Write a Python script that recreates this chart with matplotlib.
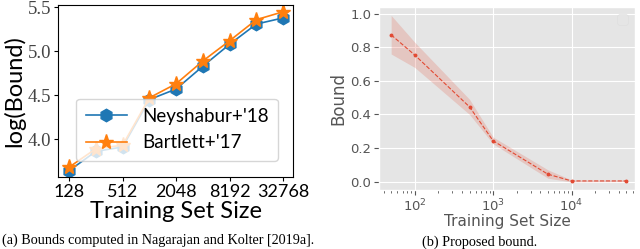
import numpy as np
import matplotlib.pyplot as plt
from matplotlib.ticker import FixedLocator, NullLocator

# panel (a)
sizes_a = [128, 256, 512, 1024, 2048, 4096, 8192, 16384, 32768]
neyshabur = [3.64, 3.86, 3.91, 4.45, 4.57, 4.83, 5.08, 5.31, 5.38]
bartlett = [3.68, 3.89, 3.93, 4.47, 4.63, 4.89, 5.12, 5.36, 5.45]
xticks_a = [128, 512, 2048, 8192, 32768]
yticks_a = [4.0, 4.5, 5.0, 5.5]

# panel (b)
sizes_b = [50, 100, 500, 1000, 5000, 10000, 50000]
bound = [0.874, 0.754, 0.445, 0.243, 0.044, 0.004, 0.004]
bound_lo = [0.76, 0.68, 0.40, 0.225, 0.02, -0.002, 0.0]
bound_hi = [0.99, 0.83, 0.49, 0.265, 0.07, 0.01, 0.01]
yticks_b = [0.0, 0.2, 0.4, 0.6, 0.8, 1.0]

fig = plt.figure(figsize=(6.4, 2.49), dpi=100)
sans = 'Lato'

# ---- kiri ----
ax1 = fig.add_axes([58/640, 1-177/249, 235/640, 172/249])
ax1.plot(sizes_a, neyshabur, color='#1f77b4', marker='h', markersize=9, lw=1.2, label="Neyshabur+'18")
ax1.plot(sizes_a, bartlett, color='#ff7f0e', marker='*', markersize=11, lw=1.2, label="Bartlett+'17")
ax1.set_xscale('log', base=2)
ax1.set_xlim(96, 42300)
ax1.set_ylim(3.568, 5.527)
ax1.xaxis.set_major_locator(FixedLocator(xticks_a))
ax1.xaxis.set_minor_locator(NullLocator())
ax1.set_xticklabels([str(t) for t in xticks_a], fontsize=13, family=sans)
ax1.set_yticks(yticks_a)
ax1.set_yticklabels(['%.1f' % t for t in yticks_a], fontsize=13.5, family='Liberation Serif', color='#444444')
ax1.set_xlabel('Training Set Size', fontsize=17, family=sans, labelpad=1)
ax1.set_ylabel('log(Bound)', fontsize=17, family=sans, labelpad=2)
ax1.tick_params(length=3, pad=2)
leg = ax1.legend(loc='lower right', prop={'family': sans, 'size': 13.5}, handlelength=2.2,
                 borderpad=0.5, bbox_to_anchor=(0.975, 0.04), framealpha=0.8)

# ---- kanan ----
with plt.style.context('ggplot'):
    ax2 = fig.add_axes([379/640, 1-190/249, 256/640, 183/249])
    ax2.fill_between(sizes_b, bound_lo, bound_hi, color='#E24A33', alpha=0.2, lw=0)
    ax2.plot(sizes_b, bound, color='#E24A33', ls='--', lw=0.8, marker='o', markersize=1.8)
    ax2.set_xscale('log')
    ax2.set_xlim(35, 64500)
    ax2.set_ylim(-0.05, 1.04)
    ax2.set_yticks(yticks_b)
    ax2.tick_params(labelsize=9.5, colors='#555555', pad=2)
    ax2.set_xlabel('Training Set Size', fontsize=11, color='#555555', labelpad=0)
    ax2.set_ylabel('Bound', fontsize=12, color='#555555', labelpad=2)
    ax2.legend(handles=[], loc='upper right', facecolor='#E5E5E5', edgecolor='#dddddd')

# caption
fig.text(0.003, 1-240/249, '(a) Bounds computed in Nagarajan and Kolter [2019a].', fontsize=10.2,
         family='Liberation Serif', va='center', ha='left')
fig.text(480/640, 1-242/249, '(b) Proposed bound.', fontsize=10.2,
         family='Liberation Serif', va='center', ha='center')

fig.savefig('out.png', dpi=100)
